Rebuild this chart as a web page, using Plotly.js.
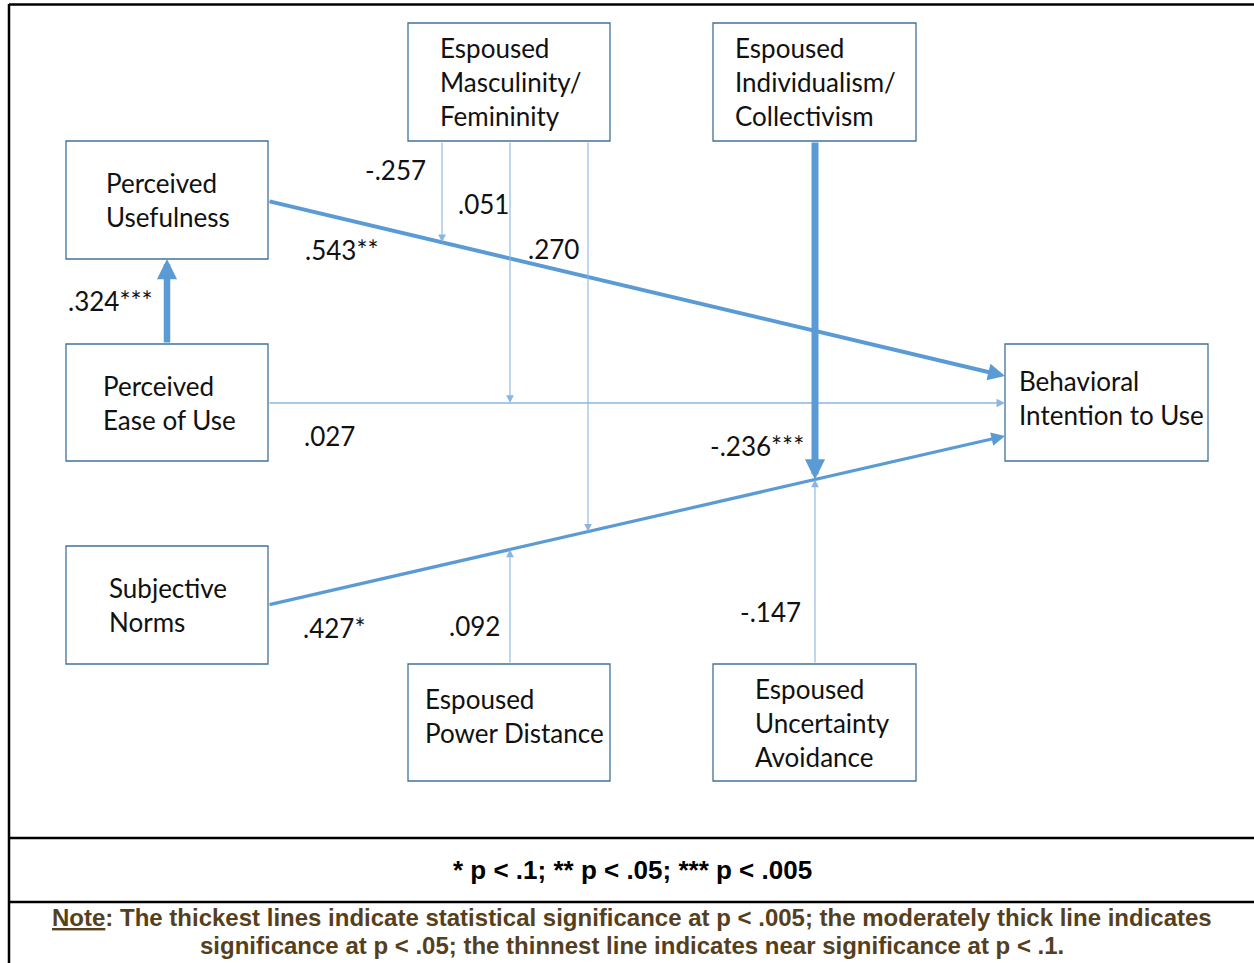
<!DOCTYPE html>
<html>
<head>
<meta charset="utf-8">
<script src="https://cdn.plot.ly/plotly-3.0.1.min.js"></script>
<style>html,body{margin:0;padding:0;background:#fff;}#chart{width:1254px;height:963px;}</style>
</head>
<body>
<div id="chart"></div>
<script>
// ---- DATA ----
var nodeIds = ["PU", "PEOU", "SN", "MF", "IC", "BI", "PD", "UA"];
var nodeLabels = [
  "Perceived<br>Usefulness",
  "Perceived<br>Ease of Use",
  "Subjective<br>Norms",
  "Espoused<br>Masculinity/<br>Femininity",
  "Espoused<br>Individualism/<br>Collectivism",
  "Behavioral<br>Intention to Use",
  "Espoused<br>Power Distance",
  "Espoused<br>Uncertainty<br>Avoidance"
];
var edgeLabels = [".324***", ".543**", ".027", ".427*", "-.257", ".051", ".270", "-.236***", "-.147", ".092"];
var legendText = "* p < .1; ** p < .05; *** p < .005";
var noteLine1 = "<u>Note</u>: The thickest lines indicate statistical significance at p < .005; the moderately thick line indicates";
var noteLine2 = "significance at p < .05; the thinnest line indicates near significance at p < .1.";

// ---- GEOMETRY (positions / sizes) ----
var boxes = {
  PU:   {x0: 66,  x1: 268, y0: 141, y1: 259, tx: 104, ty: 200},
  PEOU: {x0: 66,  x1: 268, y0: 344, y1: 461, tx: 101, ty: 403},
  SN:   {x0: 66,  x1: 268, y0: 546, y1: 664, tx: 107, ty: 605},
  MF:   {x0: 408, x1: 610, y0: 23,  y1: 141, tx: 438, ty: 82},
  IC:   {x0: 713, x1: 916, y0: 23,  y1: 141, tx: 733, ty: 82},
  BI:   {x0: 1005,x1: 1208,y0: 344, y1: 461, tx: 1017,ty: 398},
  PD:   {x0: 408, x1: 610, y0: 664, y1: 781, tx: 423, ty: 716},
  UA:   {x0: 713, x1: 916, y0: 664, y1: 781, tx: 753, ty: 723}
};
var pathPU = {x0: 268, y0: 201, x1: 1005, y1: 376};
var pathPE = {x0: 268, y0: 403, x1: 1005, y1: 403};
var pathSN = {x0: 268, y0: 605, x1: 1005, y1: 436};
function yOn(p, x) { return p.y0 + (p.y1 - p.y0) * (x - p.x0) / (p.x1 - p.x0); }

var thick = "#5B9BD5", thin = "#8AB6E1";
var edges = [
  {tx: 167, ty: 344, hx: 167, hy: 259, w: 6.5, s: 0.62, c: thick, lx: 110, ly: 301},
  {tx: pathPU.x0, ty: pathPU.y0, hx: pathPU.x1, hy: pathPU.y1, w: 4, s: 0.85, c: thick, lx: 341, ly: 250},
  {tx: pathPE.x0, ty: pathPE.y0, hx: pathPE.x1, hy: pathPE.y1, w: 1.3, s: 1.3, c: thin, lx: 329, ly: 436},
  {tx: pathSN.x0, ty: pathSN.y0, hx: pathSN.x1, hy: pathSN.y1, w: 3.2, s: 0.85, c: thick, lx: 334, ly: 628},
  {tx: 442, ty: 141, hx: 442, hy: yOn(pathPU, 442), w: 1.1, s: 1.4, c: thin, lx: 395, ly: 170},
  {tx: 510, ty: 141, hx: 510, hy: yOn(pathPE, 510), w: 1.1, s: 1.4, c: thin, lx: 483, ly: 204},
  {tx: 588, ty: 141, hx: 588, hy: yOn(pathSN, 588), w: 1.1, s: 1.4, c: thin, lx: 553, ly: 249},
  {tx: 815, ty: 141, hx: 815, hy: yOn(pathSN, 815), w: 7, s: 0.58, c: thick, lx: 757, ly: 446},
  {tx: 815, ty: 664, hx: 815, hy: yOn(pathSN, 815), w: 1.1, s: 1.4, c: thin, lx: 770, ly: 612},
  {tx: 510, ty: 664, hx: 510, hy: yOn(pathSN, 510), w: 1.1, s: 1.4, c: thin, lx: 474, ly: 626}
];

var FONT = "Lato, 'Open Sans', sans-serif";
var SANS = "'Liberation Sans', Arial, sans-serif";
var shapes = [];
var annotations = [];

var frame = {color: "#000", width: 2.5};
shapes.push({type: "line", xref: "x", yref: "y", x0: 9, y0: 4.5, x1: 1254, y1: 4.5, line: frame});
shapes.push({type: "line", xref: "x", yref: "y", x0: 9, y0: 4, x1: 9, y1: 963, line: frame});
shapes.push({type: "line", xref: "x", yref: "y", x0: 9, y0: 838, x1: 1254, y1: 838, line: frame});
shapes.push({type: "line", xref: "x", yref: "y", x0: 9, y0: 902, x1: 1254, y1: 902, line: frame});

edges.forEach(function (e, i) {
  annotations.push({
    x: e.hx, y: e.hy, ax: e.tx, ay: e.ty, xref: "x", yref: "y", axref: "x", ayref: "y",
    text: "", showarrow: true, arrowhead: 2, arrowsize: e.s, arrowwidth: e.w, arrowcolor: e.c,
    standoff: 0, startstandoff: 0
  });
  annotations.push({
    x: e.lx, y: e.ly, xref: "x", yref: "y", text: edgeLabels[i], showarrow: false,
    xanchor: "center", yanchor: "middle", font: {family: FONT, size: 26, color: "#111"}
  });
});

nodeIds.forEach(function (id, i) {
  var b = boxes[id];
  shapes.push({type: "rect", xref: "x", yref: "y", x0: b.x0, x1: b.x1, y0: b.y0, y1: b.y1,
    line: {color: "#41719C", width: 1.3}, fillcolor: "rgba(255,255,255,0)", layer: "above"});
  annotations.push({
    x: b.tx, y: b.ty, xref: "x", yref: "y", text: nodeLabels[i], showarrow: false,
    xanchor: "left", yanchor: "middle", align: "left",
    font: {family: FONT, size: 26, color: "#111"}
  });
});

annotations.push({x: 632, y: 870, xref: "x", yref: "y", text: "<b>" + legendText + "</b>", showarrow: false,
  xanchor: "center", yanchor: "middle", font: {family: SANS, size: 26, color: "#000"}});
annotations.push({x: 632, y: 917, xref: "x", yref: "y", text: "<b>" + noteLine1 + "</b>", showarrow: false,
  xanchor: "center", yanchor: "middle", font: {family: SANS, size: 24, color: "#553F1C"}});
annotations.push({x: 632, y: 945, xref: "x", yref: "y", text: "<b>" + noteLine2 + "</b>", showarrow: false,
  xanchor: "center", yanchor: "middle", font: {family: SANS, size: 24, color: "#553F1C"}});

var layout = {
  width: 1254, height: 963,
  margin: {l: 0, r: 0, t: 0, b: 0, pad: 0},
  paper_bgcolor: "#fff", plot_bgcolor: "#fff",
  xaxis: {range: [0, 1254], visible: false, fixedrange: true},
  yaxis: {range: [963, 0], visible: false, fixedrange: true},
  showlegend: false,
  shapes: shapes,
  annotations: annotations
};
Plotly.newPlot("chart", [{x: [], y: [], type: "scatter", mode: "markers", hoverinfo: "skip"}], layout, {staticPlot: true, displayModeBar: false});
</script>
</body>
</html>
